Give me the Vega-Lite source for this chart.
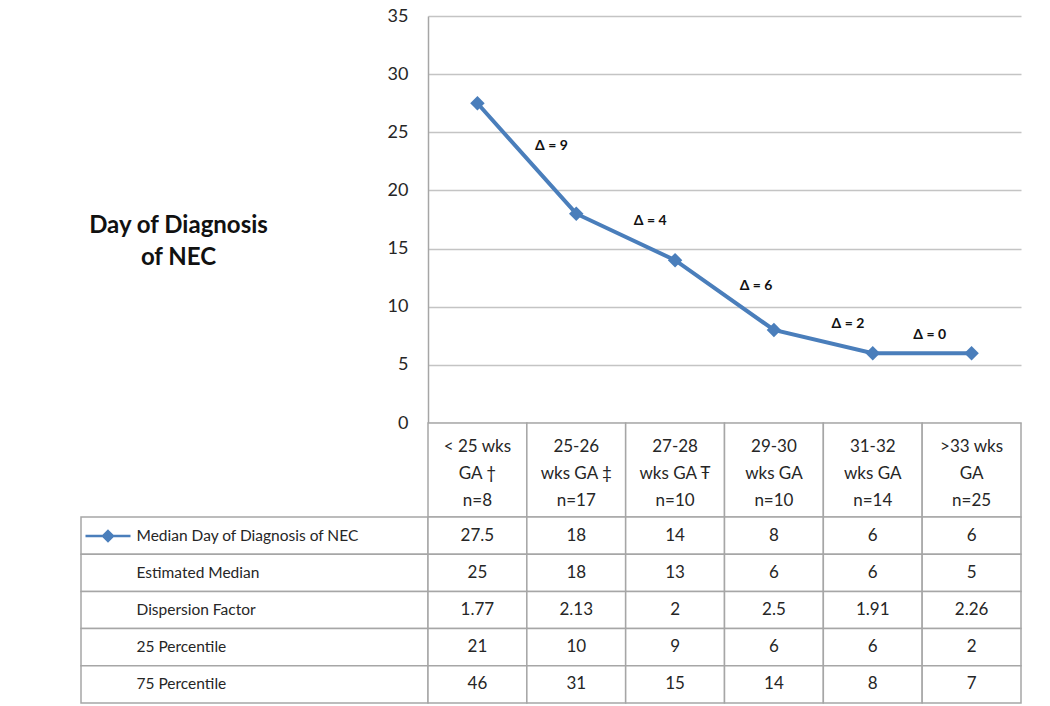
{
  "$schema": "https://vega.github.io/schema/vega-lite/v6.json",
  "padding": {"left": 80, "top": 7, "right": 0, "bottom": 0},
  "background": "white",
  "config": {"font": "Lato", "view": {"stroke": null}},
  "columns": 2,
  "spacing": 0,
  "bounds": "flush",
  "align": "each",
  "datasets": {
    "median": [
      {"group": "< 25 wks GA †", "median": 27.5},
      {"group": "25-26 wks GA ‡", "median": 18},
      {"group": "27-28 wks GA Ŧ", "median": 14},
      {"group": "29-30 wks GA", "median": 8},
      {"group": "31-32 wks GA", "median": 6},
      {"group": ">33 wks GA", "median": 6}
    ],
    "deltas": [
      {"after": "< 25 wks GA †", "label": "Δ = 9", "labelAt": 23.8},
      {"after": "25-26 wks GA ‡", "label": "Δ = 4", "labelAt": 17.4},
      {"after": "27-28 wks GA Ŧ", "label": "Δ = 6", "labelAt": 11.8},
      {"after": "29-30 wks GA", "label": "Δ = 2", "labelAt": 8.5},
      {"after": "31-32 wks GA", "label": "Δ = 0", "labelAt": 7.6}
    ],
    "groups": [
      {"group": "< 25 wks GA †", "header": "< 25 wks\nGA †\nn=8"},
      {"group": "25-26 wks GA ‡", "header": "25-26\nwks GA ‡\nn=17"},
      {"group": "27-28 wks GA Ŧ", "header": "27-28\nwks GA Ŧ\nn=10"},
      {"group": "29-30 wks GA", "header": "29-30\nwks GA\nn=10"},
      {"group": "31-32 wks GA", "header": "31-32\nwks GA\nn=14"},
      {"group": ">33 wks GA", "header": ">33 wks\nGA\nn=25"}
    ],
    "rows": [
      {"row": "Median Day of Diagnosis of NEC"},
      {"row": "Estimated Median"},
      {"row": "Dispersion Factor"},
      {"row": "25 Percentile"},
      {"row": "75 Percentile"}
    ],
    "table": [
      {"row": "Median Day of Diagnosis of NEC", "group": "< 25 wks GA †", "value": "27.5"},
      {"row": "Median Day of Diagnosis of NEC", "group": "25-26 wks GA ‡", "value": "18"},
      {"row": "Median Day of Diagnosis of NEC", "group": "27-28 wks GA Ŧ", "value": "14"},
      {"row": "Median Day of Diagnosis of NEC", "group": "29-30 wks GA", "value": "8"},
      {"row": "Median Day of Diagnosis of NEC", "group": "31-32 wks GA", "value": "6"},
      {"row": "Median Day of Diagnosis of NEC", "group": ">33 wks GA", "value": "6"},
      {"row": "Estimated Median", "group": "< 25 wks GA †", "value": "25"},
      {"row": "Estimated Median", "group": "25-26 wks GA ‡", "value": "18"},
      {"row": "Estimated Median", "group": "27-28 wks GA Ŧ", "value": "13"},
      {"row": "Estimated Median", "group": "29-30 wks GA", "value": "6"},
      {"row": "Estimated Median", "group": "31-32 wks GA", "value": "6"},
      {"row": "Estimated Median", "group": ">33 wks GA", "value": "5"},
      {"row": "Dispersion Factor", "group": "< 25 wks GA †", "value": "1.77"},
      {"row": "Dispersion Factor", "group": "25-26 wks GA ‡", "value": "2.13"},
      {"row": "Dispersion Factor", "group": "27-28 wks GA Ŧ", "value": "2"},
      {"row": "Dispersion Factor", "group": "29-30 wks GA", "value": "2.5"},
      {"row": "Dispersion Factor", "group": "31-32 wks GA", "value": "1.91"},
      {"row": "Dispersion Factor", "group": ">33 wks GA", "value": "2.26"},
      {"row": "25 Percentile", "group": "< 25 wks GA †", "value": "21"},
      {"row": "25 Percentile", "group": "25-26 wks GA ‡", "value": "10"},
      {"row": "25 Percentile", "group": "27-28 wks GA Ŧ", "value": "9"},
      {"row": "25 Percentile", "group": "29-30 wks GA", "value": "6"},
      {"row": "25 Percentile", "group": "31-32 wks GA", "value": "6"},
      {"row": "25 Percentile", "group": ">33 wks GA", "value": "2"},
      {"row": "75 Percentile", "group": "< 25 wks GA †", "value": "46"},
      {"row": "75 Percentile", "group": "25-26 wks GA ‡", "value": "31"},
      {"row": "75 Percentile", "group": "27-28 wks GA Ŧ", "value": "15"},
      {"row": "75 Percentile", "group": "29-30 wks GA", "value": "14"},
      {"row": "75 Percentile", "group": "31-32 wks GA", "value": "8"},
      {"row": "75 Percentile", "group": ">33 wks GA", "value": "7"}
    ]
  },
  "concat": [
    {
      "width": 347, "height": 407,
      "data": {"values": [{}]},
      "mark": {"type": "text"},
      "encoding": {"text": {"value": ""}}
    },
    {
      "width": 593, "height": 407,
      "layer": [
        {
          "data": {"name": "median"},
          "mark": {"type": "line", "strokeWidth": 4, "point": {"shape": "diamond", "size": 210, "filled": true}},
          "encoding": {
            "x": {"field": "group", "type": "nominal", "scale": {"domain": ["< 25 wks GA †", "25-26 wks GA ‡", "27-28 wks GA Ŧ", "29-30 wks GA", "31-32 wks GA", ">33 wks GA"], "paddingInner": 0, "paddingOuter": 0}, "axis": null},
            "y": {"field": "median", "type": "quantitative", "scale": {"domain": [0, 35], "nice": false},
              "axis": {"values": [0, 5, 10, 15, 20, 25, 30, 35], "grid": true, "gridColor": "#c4c4c4", "gridWidth": 1.5, "domain": true, "domainColor": "#a6a6a6", "domainWidth": 1.5, "ticks": false, "tickSize": 0, "labelPadding": 20, "labelFontSize": 18, "labelColor": "#262626",
                "title": ["Day of Diagnosis", "of NEC"], "titleAngle": 0, "titleAlign": "center", "titleBaseline": "middle", "titleX": -250, "titleY": 209, "titleFontSize": 24, "titleFontWeight": "bold", "titleColor": "#111111", "titleLineHeight": 32}},
            "color": {"datum": "Median Day of Diagnosis of NEC", "type": "nominal", "scale": {"range": ["#4a7ebb"]},
              "legend": {"orient": "none", "legendX": 3, "legendY": 496, "title": null, "labelExpr": "''", "symbolType": "M-1,0L1,0M0,-0.22L0.22,0L0,0.22L-0.22,0Z", "symbolSize": 2025, "symbolStrokeWidth": 2.5, "symbolFillColor": "#4a7ebb", "symbolStrokeColor": "#4a7ebb", "padding": 0}}
          }
        },
        {
          "data": {"name": "deltas"},
          "transform": [{"filter": "datum.label !== 'Δ = 6' && datum.label !== 'Δ = 0'"}],
          "mark": {"type": "text", "dx": 74, "fontSize": 14, "fontWeight": "bold", "color": "#111111"},
          "encoding": {
            "x": {"field": "after", "type": "nominal"},
            "y": {"field": "labelAt", "type": "quantitative"},
            "text": {"field": "label"}
          }
        },
        {
          "data": {"name": "deltas"},
          "transform": [{"filter": "datum.label === 'Δ = 6'"}],
          "mark": {"type": "text", "dx": 81, "fontSize": 14, "fontWeight": "bold", "color": "#111111"},
          "encoding": {
            "x": {"field": "after", "type": "nominal"},
            "y": {"field": "labelAt", "type": "quantitative"},
            "text": {"field": "label"}
          }
        },
        {
          "data": {"name": "deltas"},
          "transform": [{"filter": "datum.label === 'Δ = 0'"}],
          "mark": {"type": "text", "dx": 57, "fontSize": 14, "fontWeight": "bold", "color": "#111111"},
          "encoding": {
            "x": {"field": "after", "type": "nominal"},
            "y": {"field": "labelAt", "type": "quantitative"},
            "text": {"field": "label"}
          }
        }
      ]
    },
    {
      "width": 347, "height": 94,
      "data": {"values": [{}]},
      "mark": {"type": "text"},
      "encoding": {"text": {"value": ""}}
    },
    {
      "width": 593, "height": 94,
      "data": {"name": "groups"},
      "layer": [
        {
          "mark": {"type": "rect", "fill": "white", "stroke": "#a6a6a6", "strokeWidth": 1.5},
          "encoding": {"x": {"field": "group", "type": "nominal", "sort": null, "scale": {"paddingInner": 0, "paddingOuter": 0}, "axis": null}}
        },
        {
          "mark": {"type": "text", "lineBreak": "\n", "fontSize": 17, "lineHeight": 27, "color": "#262626", "dy": -23},
          "encoding": {"x": {"field": "group", "type": "nominal", "sort": null, "axis": null}, "text": {"field": "header"}}
        }
      ]
    },
    {
      "width": 347, "height": 186,
      "data": {"name": "rows"},
      "mark": {"type": "rect", "fill": "white", "stroke": "#a6a6a6", "strokeWidth": 1.5},
      "encoding": {
        "y": {"field": "row", "type": "nominal", "sort": null, "scale": {"paddingInner": 0, "paddingOuter": 0},
          "axis": {"title": null, "domain": false, "ticks": false, "tickSize": 0, "labelPadding": -55, "labelAlign": "left", "labelFontSize": 15.5, "labelColor": "#262626", "labelLimit": 300}}
      }
    },
    {
      "width": 593, "height": 186,
      "data": {"name": "table"},
      "layer": [
        {
          "mark": {"type": "rect", "fill": "white", "stroke": "#a6a6a6", "strokeWidth": 1.5},
          "encoding": {
            "x": {"field": "group", "type": "nominal", "sort": null, "scale": {"paddingInner": 0, "paddingOuter": 0}, "axis": null},
            "y": {"field": "row", "type": "nominal", "sort": null, "scale": {"paddingInner": 0, "paddingOuter": 0}, "axis": null}
          }
        },
        {
          "mark": {"type": "text", "fontSize": 17, "color": "#262626"},
          "encoding": {
            "x": {"field": "group", "type": "nominal", "sort": null},
            "y": {"field": "row", "type": "nominal", "sort": null},
            "text": {"field": "value"}
          }
        }
      ]
    }
  ]
}
